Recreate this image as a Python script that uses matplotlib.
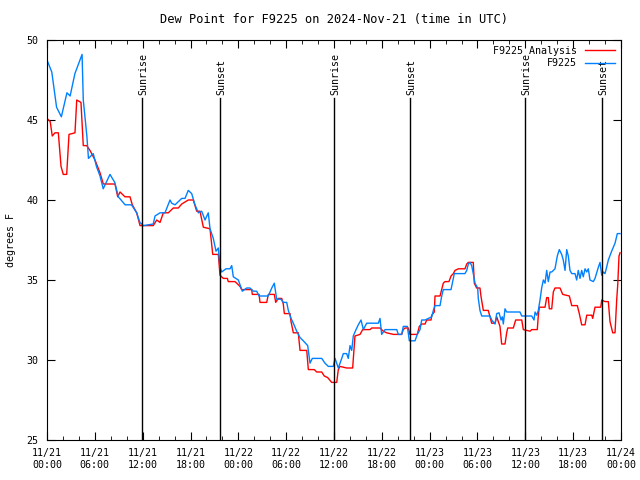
import numpy as np
import matplotlib.pyplot as plt

# hours since 11/21 00:00 UTC, dew point (F)
obs_hours = [0.0, 0.6, 1.2, 1.8, 2.5, 2.9, 3.5, 4.4, 4.55, 5.0, 5.2, 5.8, 6.2, 6.65, 7.05,
             7.9, 8.5, 8.95, 9.8, 10.6, 11.25, 11.65, 12.1, 13.33, 13.55, 14.18, 14.8,
             15.43, 15.64, 16.06, 16.9, 17.31, 17.72, 18.15, 18.56, 18.98, 19.4, 19.82,
             20.23, 20.45, 20.86, 21.2, 21.49, 21.7, 21.91, 22.45, 22.96, 23.17, 23.37,
             24.0, 24.5, 25.05, 25.46, 25.88, 26.3, 26.6, 27.76, 28.19, 28.51, 28.69,
             28.81, 29.35, 29.64, 30.07, 30.27, 30.61, 30.9, 31.32, 31.74, 32.15, 32.7,
             32.99, 33.28, 34.46, 34.87, 35.29, 35.91, 36.13, 36.34, 36.54, 36.97, 37.17,
             37.59, 37.79, 38.01, 38.22, 38.42, 38.76, 39.05, 39.39, 39.68, 40.1, 41.56,
             41.77, 41.98, 42.4, 43.87, 44.07, 44.49, 44.69, 45.2, 45.45, 46.16, 46.45,
             46.79, 47.0, 47.42, 47.83, 48.26, 48.46, 48.67, 49.3, 49.51, 49.71, 50.68,
             50.84, 51.09, 52.43, 52.65, 52.85, 53.06, 53.27, 53.47, 53.69, 54.02, 54.1,
             54.31, 54.53, 55.57, 55.78, 56.2, 56.41, 56.7, 56.95, 57.11, 57.24, 57.45,
             57.66, 59.33, 59.55, 60.8, 61.09, 61.22, 61.43, 61.63, 61.84, 62.05, 62.26,
             62.47, 62.68, 62.88, 63.1, 63.31, 63.72, 64.01, 64.26, 64.56, 64.76, 64.98,
             65.19, 65.39, 65.6, 65.82, 66.23, 66.44, 66.64, 66.86, 67.07, 67.27, 67.49,
             67.7, 67.9, 68.11, 68.53, 68.74, 69.16, 69.37, 69.58, 69.78, 69.99, 70.2,
             70.41, 70.83, 71.25, 71.54, 71.88]
obs_dewpt = [48.75, 48.0, 45.8, 45.2, 46.7, 46.5, 47.9, 49.1, 46.25, 44.0, 42.6, 42.9, 42.1,
             41.5, 40.7, 41.6, 41.1, 40.2, 39.7, 39.7, 39.2, 38.6, 38.4, 38.5, 39.0, 39.2,
             39.2, 40.0, 39.8, 39.7, 40.1, 40.1, 40.6, 40.4, 39.7, 39.2, 39.3, 38.75, 39.2,
             38.2, 37.6, 36.8, 37.0, 35.8, 35.5, 35.7, 35.7, 35.9, 35.2, 35.0, 34.3, 34.5,
             34.5, 34.3, 34.3, 34.0, 34.0, 34.5, 34.8, 34.2, 33.8, 33.8, 33.6, 33.6, 33.1,
             32.6, 32.3, 31.8, 31.4, 31.2, 30.9, 29.8, 30.1, 30.1, 29.8, 29.6, 29.6, 30.1,
             29.8, 29.5, 30.1, 30.4, 30.4, 30.1, 30.9, 30.6, 31.5, 31.9, 32.2, 32.5, 31.9,
             32.3, 32.3, 32.6, 31.6, 31.9, 31.9, 31.6, 31.6, 32.1, 32.1, 31.2, 31.2, 31.6,
             31.9, 32.5, 32.5, 32.6, 32.7, 33.1, 33.4, 33.4, 34.0, 34.4, 34.4, 34.8, 35.4,
             35.4, 35.6, 36.0, 36.1, 35.9, 35.4, 34.8, 34.5, 33.85, 33.1, 32.75, 32.75,
             32.5, 32.25, 32.9, 32.95, 32.5, 32.7, 32.25, 33.2, 33.0, 33.0, 32.75, 32.75,
             32.5, 33.0, 32.8, 33.1, 33.75, 34.5, 35.0, 34.8, 35.6, 34.9, 35.5, 35.5, 35.7,
             36.5, 36.9, 36.6, 36.25, 35.6, 36.9, 36.5, 35.6, 35.4, 35.4, 35.0, 35.6, 35.1,
             35.6, 35.2, 35.7, 35.5, 35.7, 35.0, 34.9, 35.1, 35.8, 36.1, 35.3, 35.5, 35.4,
             35.8, 36.25, 36.8, 37.3, 37.9, 37.9]

ana_hours = [0.0, 0.4, 0.66, 1.0, 1.42, 1.76, 2.04, 2.47, 2.76, 3.51, 3.73, 4.26, 4.55, 4.98,
             5.39, 6.02, 6.65, 7.06, 8.53, 8.87, 9.16, 9.78, 10.41, 10.7, 11.25, 11.67,
             12.17, 13.33, 13.76, 14.18, 14.59, 15.22, 15.84, 16.47, 16.9, 17.72, 18.35,
             18.78, 19.19, 19.61, 20.45, 20.79, 21.49, 21.7, 22.12, 22.62, 22.74, 23.58,
             23.8, 24.21, 24.42, 25.68, 25.75, 26.6, 26.72, 27.56, 27.76, 28.51, 28.69,
             29.01, 29.44, 29.64, 29.77, 30.48, 30.61, 30.9, 31.52, 31.74, 32.58, 32.78,
             33.53, 33.83, 34.46, 34.78, 35.21, 35.71, 36.34, 36.54, 36.75, 37.59, 38.34,
             38.63, 39.26, 39.6, 40.52, 40.73, 41.77, 42.19, 42.61, 43.44, 44.49, 44.69,
             44.91, 45.32, 45.53, 46.45, 46.7, 47.0, 47.42, 47.63, 48.17, 48.26, 48.58,
             48.67, 49.3, 49.51, 49.71, 49.92, 50.42, 50.68, 50.97, 51.18, 51.6, 52.43,
             52.65, 52.85, 53.47, 53.6, 53.89, 54.31, 54.43, 54.73, 55.35, 55.57, 55.78,
             56.2, 56.41, 56.82, 57.03, 57.45, 57.66, 57.79, 58.49, 58.79, 59.55, 59.75,
             60.59, 60.8, 61.5, 61.63, 61.75, 62.47, 62.68, 62.88, 63.01, 63.31, 63.51,
             63.72, 64.35, 64.69, 65.52, 65.82, 66.52, 66.77, 67.07, 67.49, 67.7, 68.33,
             68.45, 68.74, 69.46, 69.58, 69.99, 70.41, 70.62, 70.96, 71.25, 71.46, 71.59,
             71.75, 71.88]
ana_dewpt = [45.1, 44.9, 44.0, 44.2, 44.2, 42.1, 41.6, 41.6, 44.1, 44.2, 46.25, 46.1, 43.4,
             43.4, 43.1, 42.5, 41.7, 41.0, 41.0, 40.2, 40.5, 40.2, 40.2, 39.7, 39.2, 38.4,
             38.4, 38.4, 38.75, 38.6, 39.2, 39.2, 39.5, 39.5, 39.75, 40.0, 40.0, 39.3, 39.3,
             38.3, 38.2, 36.6, 36.6, 35.3, 35.1, 35.1, 34.9, 34.9, 34.8, 34.6, 34.4, 34.4,
             34.1, 34.1, 33.6, 33.6, 34.1, 34.1, 33.6, 33.85, 33.85, 33.5, 32.9, 32.9, 32.4,
             31.7, 31.7, 30.6, 30.6, 29.4, 29.4, 29.25, 29.25, 29.0, 28.9, 28.6, 28.6, 29.4,
             29.6, 29.5, 29.5, 31.5, 31.6, 31.9, 31.9, 32.0, 32.0, 31.8, 31.7, 31.6, 31.6,
             31.9, 32.0, 32.0, 31.6, 31.6, 32.1, 32.25, 32.25, 32.5, 32.5, 32.8, 33.0, 34.0,
             34.0, 34.4, 34.8, 34.9, 34.9, 35.25, 35.4, 35.6, 35.7, 35.7, 36.0, 36.1, 36.1,
             34.8, 34.5, 34.5, 34.0, 33.1, 33.1, 32.7, 32.3, 32.3, 32.7, 32.1, 31.0, 31.0,
             31.7, 32.0, 32.0, 32.5, 32.5, 31.9, 31.8, 31.9, 31.9, 32.8, 33.3, 33.3, 33.9,
             33.9, 33.2, 33.2, 34.25, 34.5, 34.5, 34.1, 34.0, 33.4, 33.4, 32.9, 32.2, 32.2,
             32.8, 32.8, 32.6, 33.3, 33.3, 33.75, 33.65, 33.65, 32.4, 31.7, 31.7, 33.75,
             34.7, 36.5, 36.7]

sun_hours = [11.9, 21.7, 36.0, 45.5, 60.0, 69.6]
sun_names = ['Sunrise', 'Sunset', 'Sunrise', 'Sunset', 'Sunrise', 'Sunset']

tick_hours = np.arange(0, 73, 6)
tick_labels = ['11/21\n00:00', '11/21\n06:00', '11/21\n12:00', '11/21\n18:00',
               '11/22\n00:00', '11/22\n06:00', '11/22\n12:00', '11/22\n18:00',
               '11/23\n00:00', '11/23\n06:00', '11/23\n12:00', '11/23\n18:00',
               '11/24\n00:00']

plt.rcParams['font.family'] = 'DejaVu Sans Mono'
plt.rcParams['font.size'] = 7.2

fig = plt.figure(figsize=(6.4, 4.8), dpi=100)
ax = fig.add_axes([47/640, 40/480, 574/640, 400/480])

ax.plot(ana_hours, ana_dewpt, color='#ff0000', lw=1, label='F9225 Analysis')
ax.plot(obs_hours, obs_dewpt, color='#0080ff', lw=1, label='F9225')

for h, name in zip(sun_hours, sun_names):
    ax.plot([h, h], [25, 46.4], color='black', lw=1)
    ax.text(h + 0.15, 46.55, name, rotation=90, ha='center', va='bottom')

ax.set_xlim(0, 72)
ax.set_ylim(25, 50)
ax.set_xticks(tick_hours)
ax.set_xticklabels(tick_labels)
ax.set_xticks(np.arange(0, 73, 2), minor=True)
ax.set_yticks(np.arange(25, 51, 5))
ax.tick_params(direction='in', top=True, right=True, length=6, pad=6)
ax.tick_params(which='minor', direction='in', top=True, length=3)
ax.set_ylabel('degrees F', labelpad=8)
ax.set_title('Dew Point for F9225 on 2024-Nov-21 (time in UTC)', pad=12)

ax.legend(loc='upper right', frameon=False, markerfirst=False, handlelength=3.0,
          borderaxespad=0.2, labelspacing=0.25, handletextpad=0.8)

plt.savefig('out.png')
